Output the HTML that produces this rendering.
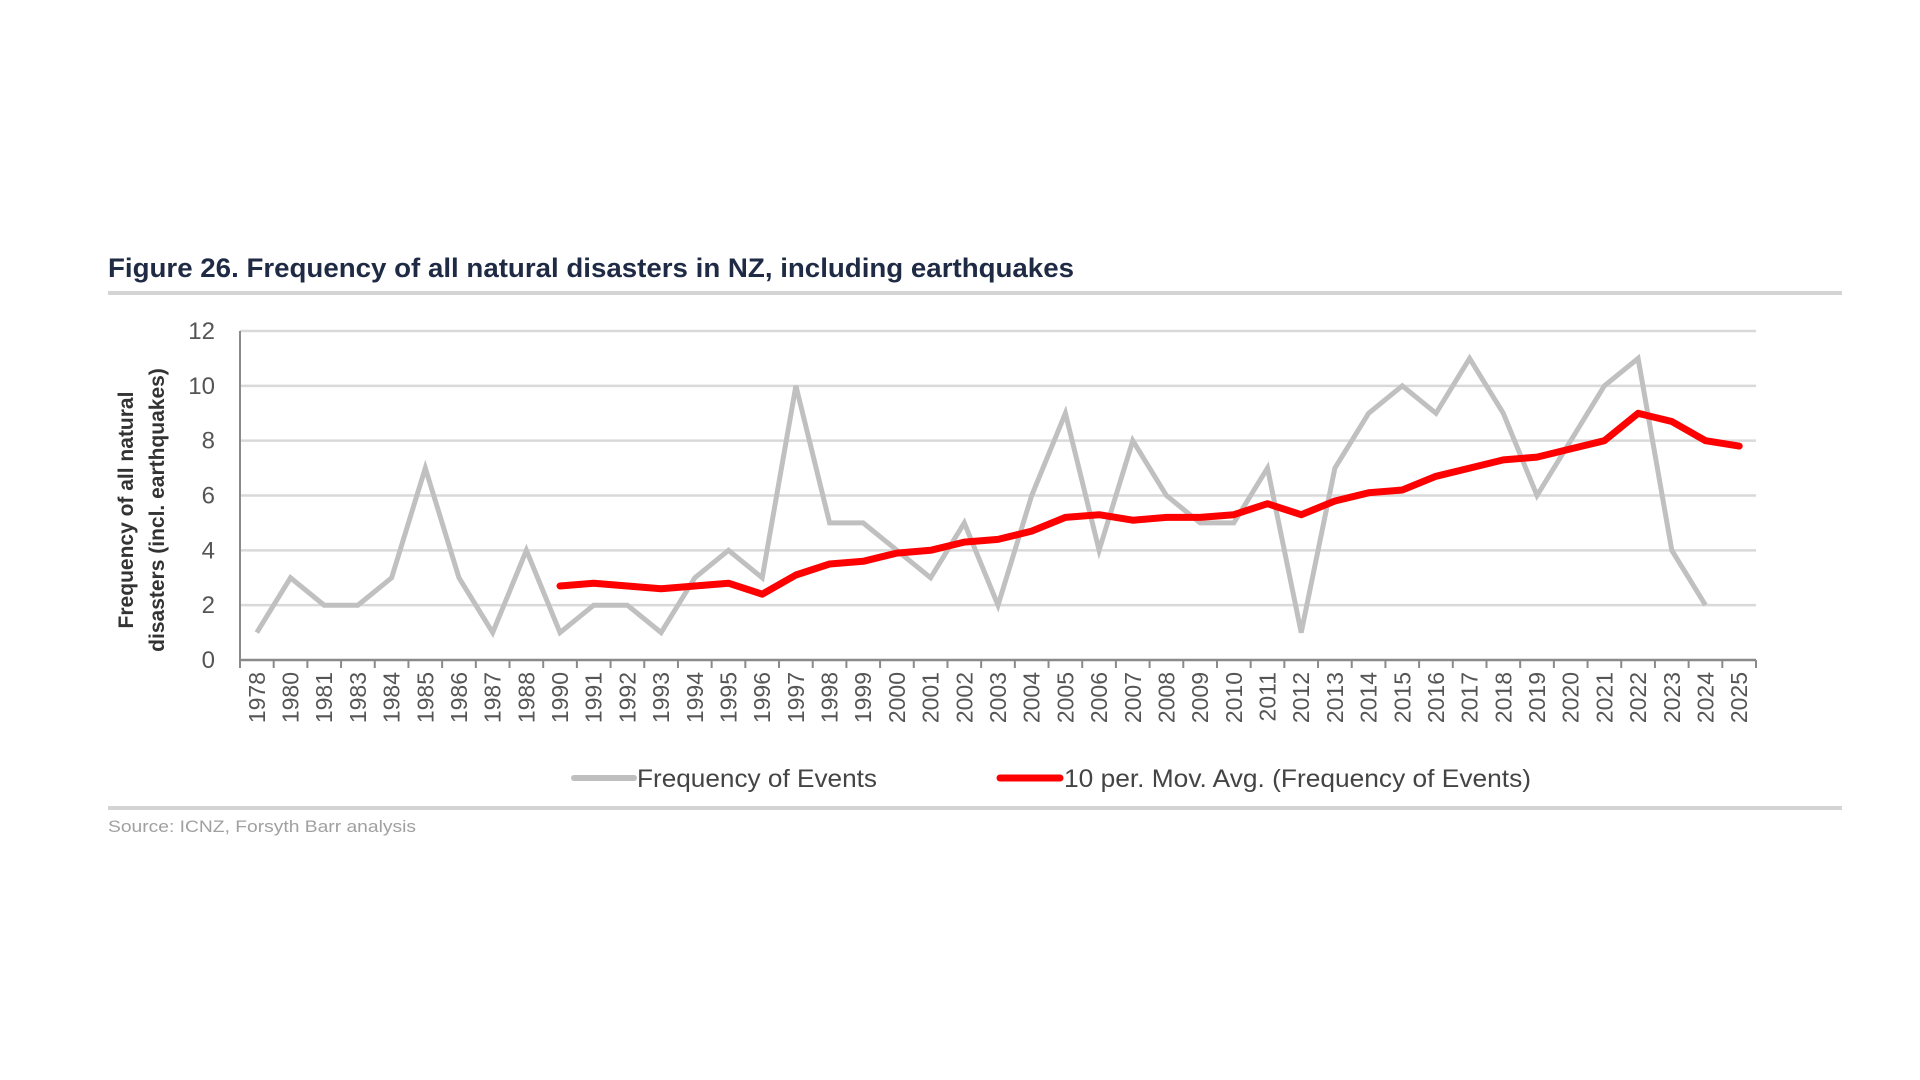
<!DOCTYPE html>
<html><head><meta charset="utf-8"><style>
html,body{margin:0;padding:0;background:#fff;}
svg{display:block;font-family:"Liberation Sans",sans-serif;}
</style></head><body>
<svg id="chart" width="1920" height="1080" viewBox="0 0 1920 1080" xmlns="http://www.w3.org/2000/svg">
<text x="108" y="277" font-size="27" font-weight="bold" fill="#1f2a44" textLength="966" lengthAdjust="spacingAndGlyphs">Figure 26. Frequency of all natural disasters in NZ, including earthquakes</text>
<rect x="108" y="291" width="1734" height="4" fill="#d4d4d4"/>
<g id="grid"></g>
<g id="yticks"></g>
<g id="xticks"></g>
<g id="series"></g>
<text transform="translate(133,510) rotate(-90)" text-anchor="middle" font-size="21" font-weight="bold" fill="#333">Frequency of all natural</text>
<text transform="translate(164,510) rotate(-90)" text-anchor="middle" font-size="21" font-weight="bold" fill="#333">disasters (incl. earthquakes)</text>
<g>
<line x1="574" y1="778" x2="634" y2="778" stroke="#bfbfbf" stroke-width="6" stroke-linecap="round"/>
<text x="637" y="787" font-size="25" fill="#444" textLength="240" lengthAdjust="spacingAndGlyphs">Frequency of Events</text>
<line x1="1000" y1="778" x2="1060" y2="778" stroke="#ff0000" stroke-width="7" stroke-linecap="round"/>
<text x="1064" y="787" font-size="25" fill="#444" textLength="467" lengthAdjust="spacingAndGlyphs">10 per. Mov. Avg. (Frequency of Events)</text>
</g>
<rect x="108" y="806" width="1734" height="4" fill="#d4d4d4"/>
<text x="108" y="832" font-size="17" fill="#a0a0a0" textLength="308" lengthAdjust="spacingAndGlyphs">Source: ICNZ, Forsyth Barr analysis</text>
</svg>
<script>
const years = ["1978","1980","1981","1983","1984","1985","1986","1987","1988","1990","1991","1992","1993","1994","1995","1996","1997","1998","1999","2000","2001","2002","2003","2004","2005","2006","2007","2008","2009","2010","2011","2012","2013","2014","2015","2016","2017","2018","2019","2020","2021","2022","2023","2024","2025"];
const frequency = [1,3,2,2,3,7,3,1,4,1,2,2,1,3,4,3,10,5,5,4,3,5,2,6,9,4,8,6,5,5,7,1,7,9,10,9,11,9,6,8,10,11,4,2,null];
const movingAvg = [null,null,null,null,null,null,null,null,null,2.7,2.8,2.7,2.6,2.7,2.8,2.4,3.1,3.5,3.6,3.9,4.0,4.3,4.4,4.7,5.2,5.3,5.1,5.2,5.2,5.3,5.7,5.3,5.8,6.1,6.2,6.7,7.0,7.3,7.4,7.7,8.0,9.0,8.7,8.0,7.8];
const yTicks = [0,2,4,6,8,10,12];

const NS="http://www.w3.org/2000/svg";
const X0=240,X1=1756,Y0=660,Y1=331,YMAX=12;
const bw=(X1-X0)/years.length;
const xs=i=>X0+bw*(i+0.5);
const ys=v=>Y0-(v/YMAX)*(Y0-Y1);
function mk(tag,attrs,parent){const e=document.createElementNS(NS,tag);for(const k in attrs)e.setAttribute(k,attrs[k]);parent.appendChild(e);return e;}
const grid=document.getElementById('grid'),yt=document.getElementById('yticks'),xt=document.getElementById('xticks'),ser=document.getElementById('series');
yTicks.forEach(t=>{
  if(t>0){const g=mk('line',{x1:X0,x2:X1,y1:ys(t),y2:ys(t),stroke:'#d9d9d9','stroke-width':2.5},grid);
  
  }
  const l=mk('text',{x:215,y:ys(t)+8,'text-anchor':'end','font-size':24,fill:'#555'},yt);
  
  
  l.textContent=t;
});
const ya=mk('line',{x1:X0,x2:X0,y1:Y1,y2:Y0,stroke:'#8a8a8a','stroke-width':2},grid);


const xa=mk('line',{x1:X0,x2:X1,y1:Y0,y2:Y0,stroke:'#8a8a8a','stroke-width':2.5},grid);


for(let i=0;i<=years.length;i++){
  const x=X0+bw*i;
  const tk=mk('line',{x1:x,x2:x,y1:Y0,y2:Y0+8,stroke:'#8a8a8a','stroke-width':2},xt);
  
  
}
years.forEach((y,i)=>{
  const t=mk('text',{transform:`translate(${xs(i)+8},672) rotate(-90)`,'text-anchor':'end','font-size':23,fill:'#555'},xt);
  
  
  t.textContent=y;
});
function path(vals){let d='',pen=false;vals.forEach((v,i)=>{if(v==null){pen=false;return;}d+=(pen?'L':'M')+xs(i).toFixed(1)+','+ys(v).toFixed(1);pen=true;});return d;}
const p1=mk('path',{d:path(frequency),fill:'none',stroke:'#c0c0c0','stroke-width':5,'stroke-linejoin':'miter'},ser);


const p2=mk('path',{d:path(movingAvg),fill:'none',stroke:'#ff0000','stroke-width':7,'stroke-linejoin':'round','stroke-linecap':'round'},ser);


</script>
</body></html>
